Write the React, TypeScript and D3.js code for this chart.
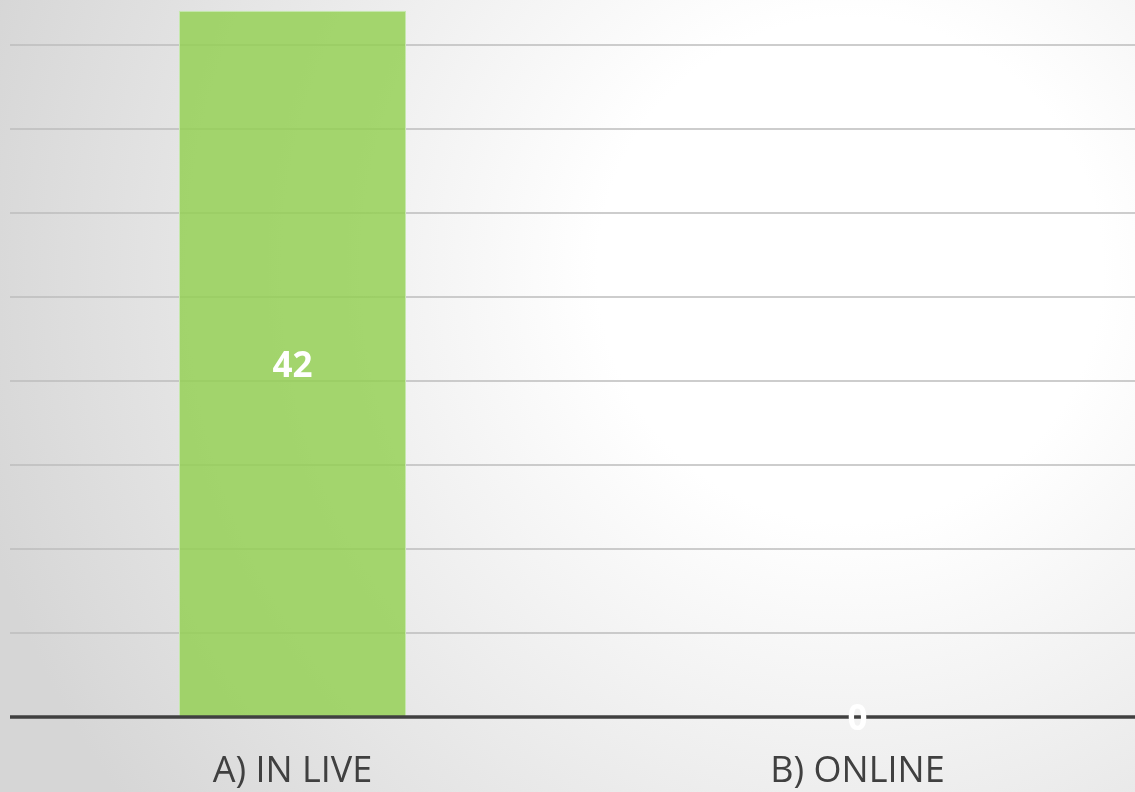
import React, { useRef, useEffect } from "react";
import * as d3 from "d3";

const categories = ["A) IN LIVE", "B) ONLINE"];
const values = [42, 0];
const yTicks = [5, 10, 15, 20, 25, 30, 35, 40];

const W = 1135;
const H = 792;

const App = () => {
  const svgRef = useRef<SVGSVGElement>(null);

  useEffect(() => {
    const svg = d3.select(svgRef.current);
    svg.selectAll("*").remove();

    // background gradient
    const defs = svg.append("defs");
    const grad = defs
      .append("radialGradient")
      .attr("id", "bg")
      .attr("gradientUnits", "userSpaceOnUse")
      .attr("cx", 850)
      .attr("cy", 270)
      .attr("r", 900);
    grad.append("stop").attr("offset", "0%").attr("stop-color", "#ffffff");
    grad.append("stop").attr("offset", "28%").attr("stop-color", "#ffffff");
    grad.append("stop").attr("offset", "100%").attr("stop-color", "#d6d6d6");

    svg.append("rect").attr("width", W).attr("height", H).attr("fill", "url(#bg)");

    const x = d3
      .scaleBand<string>()
      .domain(categories)
      .range([10, 1140])
      .paddingInner(0.6)
      .paddingOuter(0.3);

    const y = d3.scaleLinear().domain([0, 40]).range([717, 45]);

    // gridlines
    svg
      .append("g")
      .selectAll("line")
      .data(yTicks)
      .join("line")
      .attr("x1", 10)
      .attr("x2", W)
      .attr("y1", (d) => y(d))
      .attr("y2", (d) => y(d))
      .attr("stroke", "#bdbdbd")
      .attr("stroke-width", 1.5);

    // bars
    svg
      .append("g")
      .selectAll("rect")
      .data(values)
      .join("rect")
      .attr("x", (d, i) => x(categories[i])!)
      .attr("width", x.bandwidth())
      .attr("y", (d) => y(d))
      .attr("height", (d) => y(0) - y(d))
      .attr("fill", "#92d050")
      .attr("fill-opacity", 0.82)
      .attr("stroke", "#c6e8ae")
      .attr("stroke-width", 1);

    // baseline
    svg
      .append("line")
      .attr("x1", 10)
      .attr("x2", W)
      .attr("y1", y(0))
      .attr("y2", y(0))
      .attr("stroke", "#404040")
      .attr("stroke-width", 3.5);

    // value labels
    svg
      .append("g")
      .selectAll("text")
      .data(values)
      .join("text")
      .attr("x", (d, i) => x(categories[i])! + x.bandwidth() / 2)
      .attr("y", (d) => (y(0) + y(d)) / 2)
      .attr("dy", "0.36em")
      .attr("text-anchor", "middle")
      .attr("fill", "#ffffff")
      .attr("font-family", "'Open Sans', sans-serif")
      .attr("font-weight", "bold")
      .attr("font-size", 35)
      .text((d) => d);

    // category labels
    svg
      .append("g")
      .selectAll("text")
      .data(categories)
      .join("text")
      .attr("x", (d) => x(d)! + x.bandwidth() / 2)
      .attr("y", 782)
      .attr("text-anchor", "middle")
      .attr("fill", "#404040")
      .attr("font-family", "'Open Sans', sans-serif")
      .attr("font-size", 36)
      .text((d) => d);
  }, []);

  return (
    <svg
      ref={svgRef}
      width={W}
      height={H}
      style={{ position: "fixed", left: 0, top: 0, display: "block" }}
    ></svg>
  );
};

export default App;
